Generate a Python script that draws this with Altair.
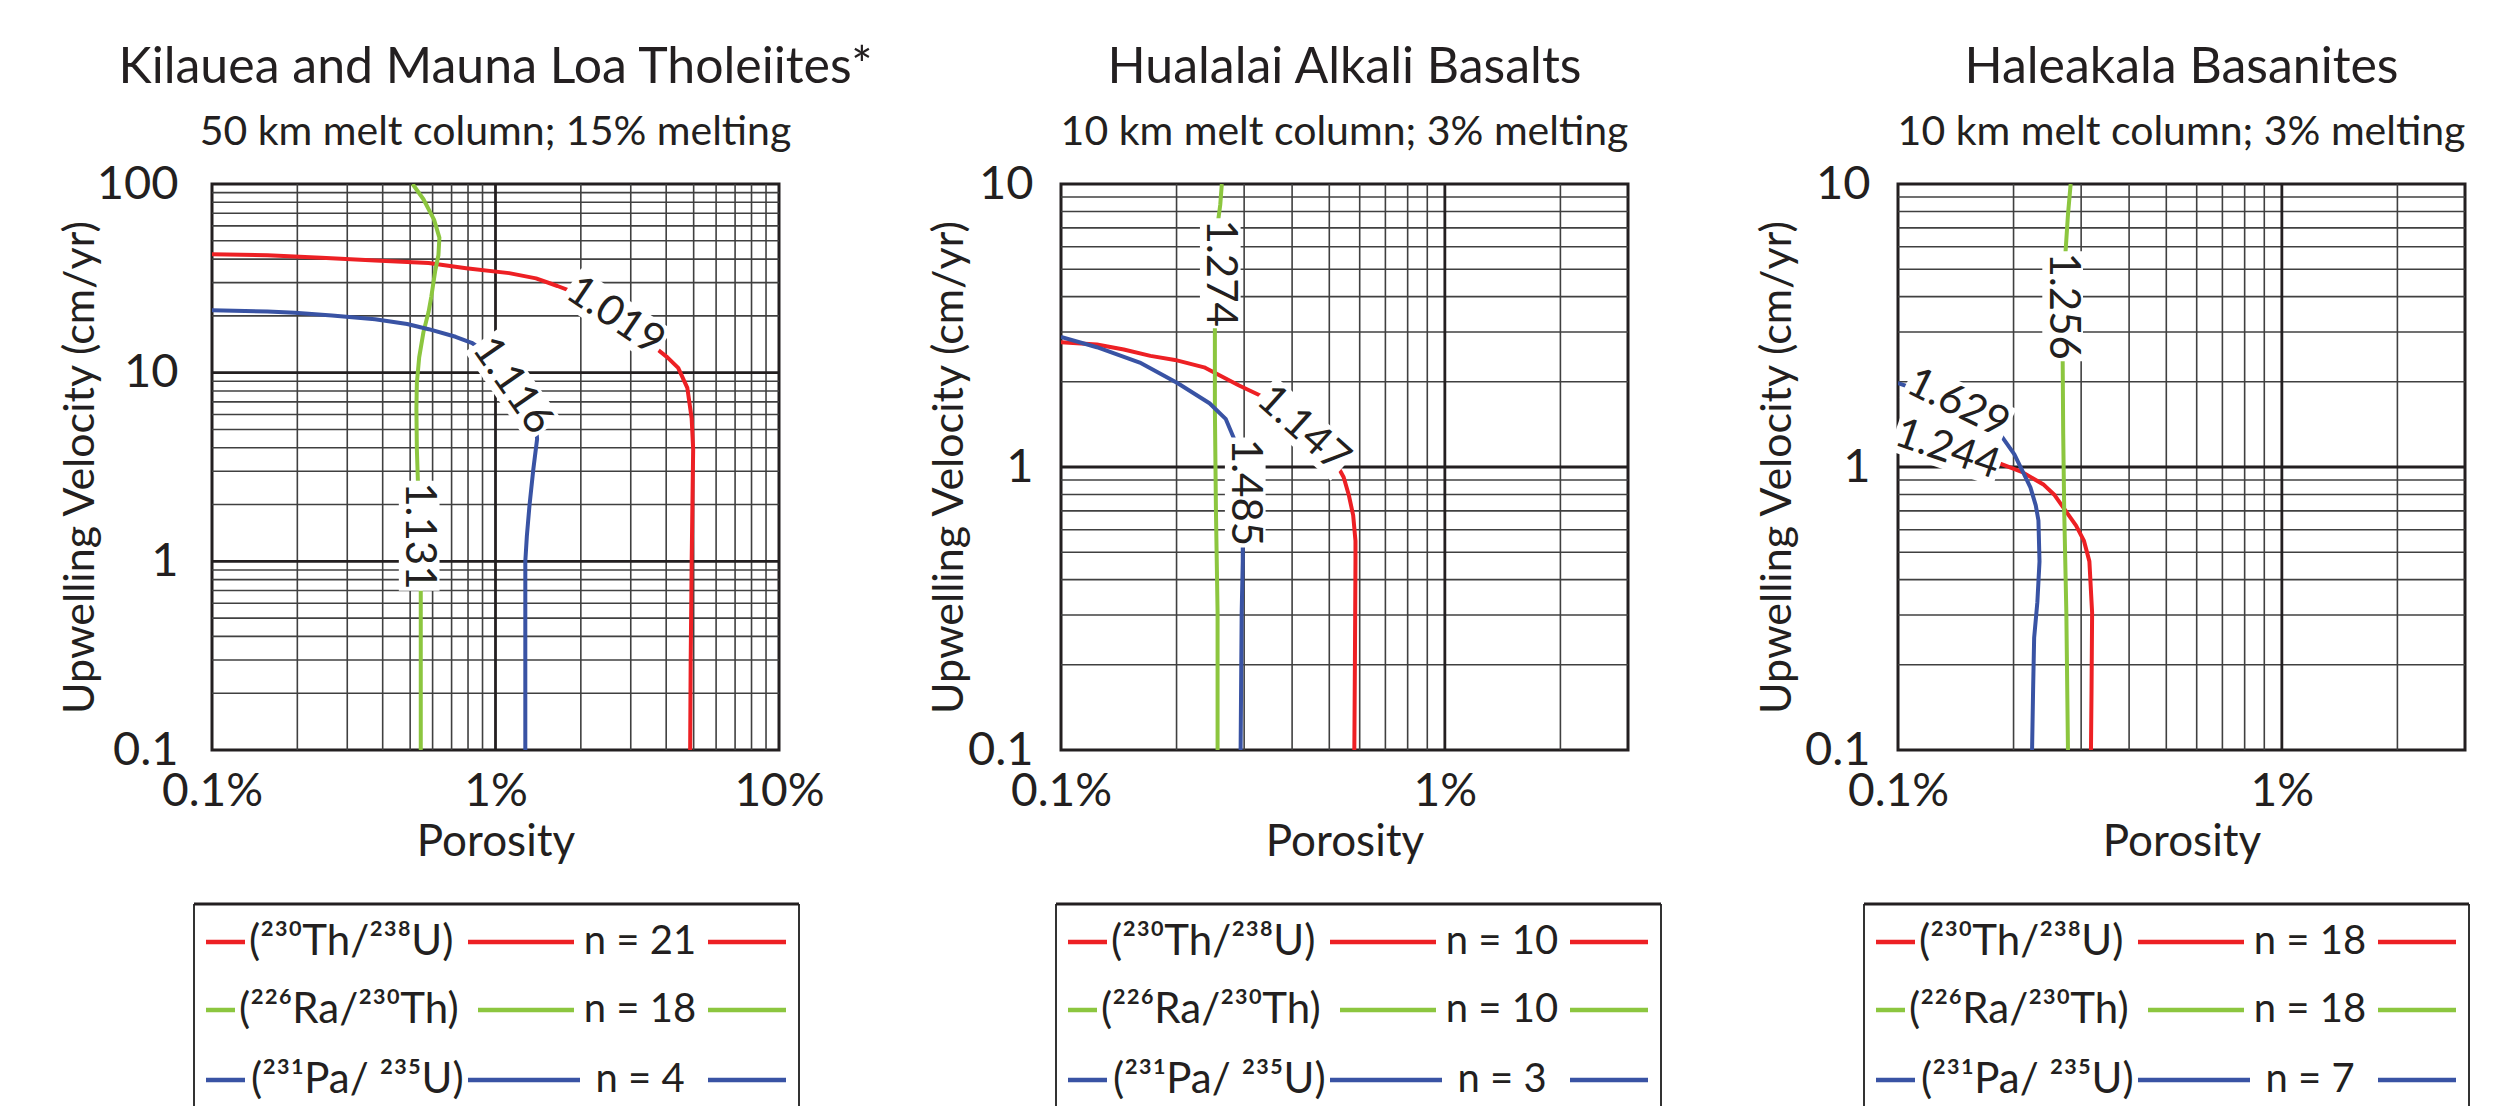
import altair as alt
import pandas as pd

FONT = "Lato"
INK = "#231f20"
GRID_MINOR = "#404040"

SERIES = ["Th", "Ra", "Pa"]
COLORS = ["#ed2024", "#8cc63f", "#3953a4"]
LEGEND_LABELS = ["(²³⁰Th/²³⁸U)", "(²²⁶Ra/²³⁰Th)", "(²³¹Pa/ ²³⁵U)"]

TITLES = ["Kilauea and Mauna Loa Tholeiites*", "Hualalai Alkali Basalts", "Haleakala Basanites"]
SUBTITLES = ["50 km melt column; 15% melting", "10 km melt column; 3% melting",
             "10 km melt column; 3% melting"]
N_COUNTS = [[21, 18, 4], [10, 10, 3], [18, 18, 7]]

X_DOMAINS = [[0.1, 10], [0.1, 3], [0.1, 3]]
Y_DOMAINS = [[0.1, 100], [0.1, 10], [0.1, 10]]
X_LABELS = [[0.1, 1, 10], [0.1, 1], [0.1, 1]]
Y_LABELS = [[0.1, 1, 10, 100], [0.1, 1, 10], [0.1, 1, 10]]

# ---- Panel 1: Kilauea / Mauna Loa (porosity %, velocity cm/yr)
K_TH_POR = [0.1, 0.157, 0.243, 0.376, 0.581, 0.788, 1.117, 1.39, 1.654, 1.884, 2.65, 3.545,
            4.04, 4.41, 4.75, 4.92, 4.98, 4.96, 4.92, 4.88, 4.86]
K_TH_VEL = [42.4, 41.9, 40.6, 39.3, 38.1, 35.8, 33.7, 31.6, 28.8, 26.7, 20.0, 14.1,
            12.05, 10.6, 8.3, 5.71, 3.93, 2.54, 1.0, 0.288, 0.1]
K_RA_POR = [0.510, 0.557, 0.607, 0.634, 0.629, 0.613, 0.594, 0.581, 0.557, 0.538, 0.528,
            0.526, 0.528, 0.533, 0.538, 0.545, 0.545, 0.545]
K_RA_VEL = [100, 83, 64.7, 52, 41.9, 34.7, 25.4, 21.1, 16.4, 12.05, 8.83, 6.47, 3.93, 2.54,
            1.365, 0.733, 0.288, 0.1]
K_PA_POR = [0.1, 0.157, 0.196, 0.265, 0.376, 0.488, 0.581, 0.723, 0.824, 0.899, 1.152, 1.39,
            1.402, 1.359, 1.318, 1.290, 1.274, 1.274, 1.274]
K_PA_VEL = [21.4, 21.1, 20.8, 20.1, 19.2, 18.1, 17.0, 15.5, 14.4, 13.2, 8.56, 5.2, 4.45,
            3.06, 1.98, 1.36, 1.0, 0.288, 0.1]

# ---- Panel 2: Hualalai
H_TH_POR = [0.1, 0.124, 0.1457, 0.171, 0.198, 0.236, 0.291, 0.342, 0.428, 0.519, 0.545,
            0.562, 0.577, 0.585, 0.585, 0.583, 0.581]
H_TH_VEL = [2.76, 2.71, 2.60, 2.47, 2.39, 2.25, 1.94, 1.75, 1.365, 1.04, 0.92, 0.796,
            0.675, 0.548, 0.464, 0.202, 0.1]
H_RA_POR = [0.2624, 0.26, 0.2558, 0.26, 0.2517, 0.2517, 0.2533, 0.2558, 0.2558]
H_RA_VEL = [10, 8.47, 7.18, 4.84, 3.13, 1.61, 0.703, 0.306, 0.1]
H_PA_POR = [0.1, 0.124, 0.1604, 0.201, 0.2437, 0.2685, 0.2862, 0.302, 0.2975, 0.2975,
            0.2956, 0.2937]
H_PA_VEL = [2.88, 2.65, 2.34, 1.98, 1.68, 1.48, 1.205, 0.813, 0.526, 0.464, 0.306, 0.1]

# ---- Panel 3: Haleakala
L_TH_POR = [0.1, 0.1345, 0.1796, 0.2109, 0.2399, 0.2558, 0.2728, 0.291, 0.3052, 0.3152,
            0.3204, 0.3193, 0.3182]
L_TH_VEL = [1.337, 1.156, 1.042, 0.959, 0.865, 0.796, 0.703, 0.621, 0.548, 0.464, 0.306,
            0.164, 0.1]
L_RA_POR = [0.2817, 0.2772, 0.2728, 0.2685, 0.2685, 0.2694, 0.271, 0.2745, 0.2772]
L_RA_VEL = [10, 7.8, 5.6, 3.70, 2.44, 1.31, 0.703, 0.306, 0.1]
L_PA_POR = [0.1, 0.1434, 0.1824, 0.201, 0.2213, 0.2285, 0.2322, 0.2337, 0.2307, 0.2263,
            0.2249, 0.2235]
L_PA_VEL = [1.98, 1.68, 1.337, 1.109, 0.847, 0.732, 0.647, 0.464, 0.333, 0.249, 0.164, 0.1]

CURVES = [
    {"Th": (K_TH_POR, K_TH_VEL), "Ra": (K_RA_POR, K_RA_VEL), "Pa": (K_PA_POR, K_PA_VEL)},
    {"Th": (H_TH_POR, H_TH_VEL), "Ra": (H_RA_POR, H_RA_VEL), "Pa": (H_PA_POR, H_PA_VEL)},
    {"Th": (L_TH_POR, L_TH_VEL), "Ra": (L_RA_POR, L_RA_VEL), "Pa": (L_PA_POR, L_PA_VEL)},
]

# ---- contour labels on the curves
LAB_TEXT = [["1.019", "1.116", "1.131"], ["1.274", "1.147", "1.485"], ["1.256", "1.629", "1.244"]]
LAB_POR = [[2.65, 1.152, 0.538], [0.26, 0.428, 0.302], [0.2685, 0.1434, 0.1345]]
LAB_VEL = [[20.0, 8.56, 1.365], [4.84, 1.365, 0.813], [3.70, 1.68, 1.156]]
LAB_ANGLE = [[34, 55, 90], [90, 42, 90], [90, 26, 19]]

# ---- layout / style parameters (not data)
PLOT_W, PLOT_H = 567, 566
YTITLE_X = [-110, -90, -99]
YLABEL_PAD = [34, 28, 28]
BOX_PATH = "M-1,-0.37L1,-0.37L1,0.37L-1,0.37Z"

LEG_BOX_W = 605
LEG_H = 202
LEG_ROW_Y = [38, 106, 176]
LEG_SHIFT = [18, 5, 34]
LEG_CHART_W = [579, 567, 567]
SEG1_END = [51, 41, 51]
LABEL_X = [55, 45, 57]
SEG2_START = [274, 284, 274]
SEG2_END = [380, 380, 386]
N_X = 446
SEG3 = (514, 592)

color_scale = alt.Scale(domain=SERIES, range=COLORS)


def grid_vals(dom):
    lo, hi = dom
    minor, major = [], []
    d = lo
    while d < hi * 0.999:
        for k in range(1, 10):
            v = d * k
            if lo * 1.001 < v < hi * 0.999:
                (major if k == 1 else minor).append(v)
        d *= 10
    return minor, major


def make_panel(idx):
    xs = alt.Scale(type="log", domain=X_DOMAINS[idx], nice=False)
    ys = alt.Scale(type="log", domain=Y_DOMAINS[idx], nice=False)
    xaxis = alt.Axis(values=X_LABELS[idx], labelExpr="datum.value + '%'", title="Porosity",
                     grid=False, ticks=False, tickSize=0, domain=False, labelFlush=False,
                     labelOverlap=False, labelBound=False, labelFontSize=46, labelPadding=19,
                     labelColor=INK, labelFont=FONT, titleFontSize=44, titleFont=FONT,
                     titleColor=INK, titleFontWeight="normal", titleY=70, titleBaseline="top")
    yaxis = alt.Axis(values=Y_LABELS[idx], labelExpr="'' + datum.value",
                     title="Upwelling Velocity (cm/yr)", grid=False, ticks=False, tickSize=0,
                     domain=False, labelFlush=False, labelOverlap=False, labelBound=False,
                     labelFontSize=47, labelPadding=YLABEL_PAD[idx], labelColor=INK,
                     labelFont=FONT, titleFontSize=43, titleFont=FONT, titleColor=INK,
                     titleFontWeight="normal", titleX=YTITLE_X[idx])
    X = alt.X("p:Q", scale=xs, axis=xaxis)
    Y = alt.Y("v:Q", scale=ys, axis=yaxis)

    xminor, xmajor = grid_vals(X_DOMAINS[idx])
    yminor, ymajor = grid_vals(Y_DOMAINS[idx])

    vmin = alt.Chart(pd.DataFrame({"p": xminor})).mark_rule(color=GRID_MINOR, strokeWidth=1.6).encode(x=X)
    hmin = alt.Chart(pd.DataFrame({"v": yminor})).mark_rule(color=GRID_MINOR, strokeWidth=1.6).encode(y=Y)
    vmaj = alt.Chart(pd.DataFrame({"p": xmajor})).mark_rule(color=INK, strokeWidth=2.8).encode(x=X)
    hmaj = alt.Chart(pd.DataFrame({"v": ymajor})).mark_rule(color=INK, strokeWidth=2.8).encode(y=Y)

    rows = []
    for s in SERIES:
        por, vel = CURVES[idx][s]
        for i, (p, v) in enumerate(zip(por, vel)):
            rows.append({"series": s, "i": i, "p": p, "v": v})
    cdf = pd.DataFrame(rows)
    lines = alt.Chart(cdf).mark_line(strokeWidth=4, clip=True, strokeJoin="round").encode(
        x=X, y=Y, color=alt.Color("series:N", scale=color_scale, legend=None),
        order=alt.Order("i:Q"), detail="series:N")

    ldf = pd.DataFrame({"label": LAB_TEXT[idx], "p": LAB_POR[idx], "v": LAB_VEL[idx],
                        "angle": LAB_ANGLE[idx]})
    boxes = alt.Chart(ldf).mark_point(shape=BOX_PATH, filled=True, fill="white", opacity=1,
                                      strokeWidth=0, size=12100).encode(
        x=X, y=Y, angle=alt.Angle("angle:Q", scale=None))
    texts = alt.Chart(ldf).mark_text(font=FONT, fontSize=42, color=INK, align="center",
                                     baseline="middle").encode(
        x=X, y=Y, text="label:N", angle=alt.Angle("angle:Q", scale=None))

    return alt.layer(vmin, hmin, vmaj, hmaj, lines, boxes, texts).properties(
        width=PLOT_W, height=PLOT_H,
        title=alt.TitleParams(text=TITLES[idx], subtitle=SUBTITLES[idx], font=FONT,
                              subtitleFont=FONT, fontSize=50, subtitleFontSize=41,
                              fontWeight="normal", color=INK, subtitleColor=INK,
                              anchor="middle", offset=7, subtitlePadding=20))


def make_legend(idx):
    lo = LEG_SHIFT[idx]
    xs = alt.Scale(domain=[lo, lo + LEG_CHART_W[idx]], nice=False, zero=False)
    ys = alt.Scale(domain=[0, LEG_H], nice=False, zero=False, reverse=True)
    X = alt.X("x:Q", scale=xs, axis=None)
    X2 = alt.X2("x2:Q")
    Y = alt.Y("y:Q", scale=ys, axis=None)

    frame = pd.DataFrame({"x": [0, LEG_BOX_W], "x2": [0, LEG_BOX_W], "y": [0, 0],
                          "y2": [LEG_H + 30, LEG_H + 30]})
    sides = alt.Chart(frame).mark_rule(color="#333333", strokeWidth=2).encode(
        x=X, x2=X2, y=Y, y2=alt.Y2("y2:Q"))
    top = alt.Chart(pd.DataFrame({"x": [0], "x2": [LEG_BOX_W], "y": [0]})).mark_rule(
        color=INK, strokeWidth=3).encode(x=X, x2=X2, y=Y)

    segs, labs, ns = [], [], []
    for r, s in enumerate(SERIES):
        y = LEG_ROW_Y[r]
        segs += [{"series": s, "x": 12, "x2": SEG1_END[r], "y": y},
                 {"series": s, "x": SEG2_START[r], "x2": SEG2_END[r], "y": y},
                 {"series": s, "x": SEG3[0], "x2": SEG3[1], "y": y}]
        labs.append({"x": LABEL_X[r], "y": y, "t": LEGEND_LABELS[r]})
        ns.append({"x": N_X, "y": y, "t": "n = %d" % N_COUNTS[idx][r]})
    seg_chart = alt.Chart(pd.DataFrame(segs)).mark_rule(strokeWidth=4.5).encode(
        x=X, x2=X2, y=Y, color=alt.Color("series:N", scale=color_scale, legend=None))
    lab_chart = alt.Chart(pd.DataFrame(labs)).mark_text(
        font=FONT, fontSize=42, color=INK, align="left", baseline="middle").encode(
        x=X, y=Y, text="t:N")
    n_chart = alt.Chart(pd.DataFrame(ns)).mark_text(
        font=FONT, fontSize=40, color=INK, align="center", baseline="middle").encode(
        x=X, y=Y, text="t:N")
    return alt.layer(sides, top, seg_chart, lab_chart, n_chart).properties(
        width=LEG_CHART_W[idx], height=LEG_H, view=alt.ViewBackground(strokeWidth=0))


charts = [make_panel(i) for i in range(3)] + [make_legend(i) for i in range(3)]
chart = alt.concat(*charts, columns=3, spacing=alt.RowColnumber(row=154, column=270),
                   bounds="flush", align="each").properties(
    autosize=alt.AutoSizeParams(type="none"),
    padding={"left": 212, "top": 184, "right": 2308, "bottom": 922},
    background="white",
).configure(font=FONT).configure_view(stroke=INK, strokeWidth=3)

chart.save("out.html", embed_options={"renderer": "svg", "actions": False})
